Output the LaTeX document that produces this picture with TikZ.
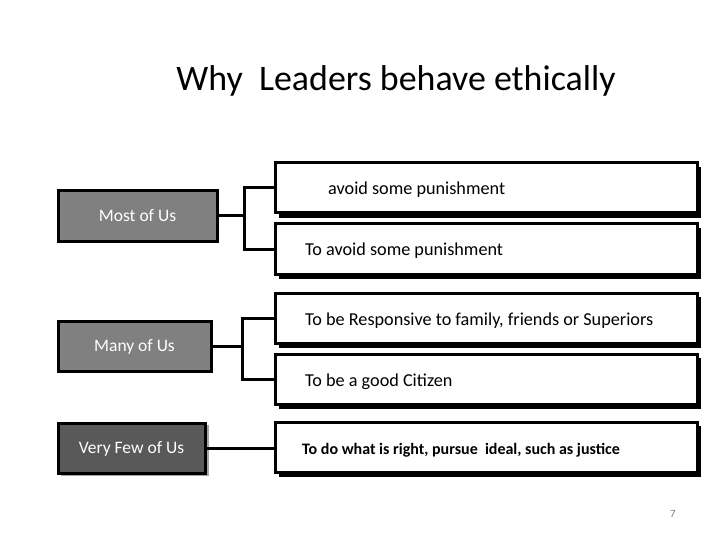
\documentclass[tikz,border=0pt]{standalone}
\usepackage{fontspec}
\setmainfont{Carlito}
\begin{document}
\begin{tikzpicture}[x=1pt,y=-1pt,
  leftbox/.style={draw=black,line width=3pt,fill=gray50,minimum width=#1,minimum height=50pt,inner sep=0pt,text=white,font=\fontsize{17.5}{20}\selectfont,text depth=0.5pt},
  rightbox/.style={draw=black,line width=3pt,fill=white,minimum width=422pt,minimum height=50pt,inner sep=0pt},
  rtext/.style={anchor=west,inner sep=0pt,font=\fontsize{18.2}{21}\selectfont},
  conn/.style={line width=3pt}]
\definecolor{gray50}{HTML}{808080}
\definecolor{gray35}{HTML}{595959}
\useasboundingbox (0,0) rectangle (720,540);
% title
\node[font=\fontsize{35.9}{40}\selectfont] (title) at (396,81) {Why\ \ Leaders behave ethically};
% right boxes with shadows
\foreach \y/\n in {188/r1,249/r2,318/r3,379/r4,447/r5}{
  \fill[black] (279,\y-21) rectangle (701,\y+30);
  \node[rightbox] (\n) at (486,\y) {};
}
\node[rtext] (t1) at (328,189.5) {avoid some punishment};
\node[rtext] (t2) at (305,250.5) {To avoid some punishment};
\node[rtext] (t3) at (305,320.5) {To be Responsive to family, friends or Superiors};
\node[rtext] (t4) at (305,381.5) {To be a good Citizen};
\node[rtext,font=\fontsize{16}{19}\selectfont\bfseries] (t5) at (302,450) {To do what is right, pursue\ \ ideal, such as justice};
% left boxes
\node[leftbox=159pt] (most) at (137.5,216) {Most of Us};
\node[leftbox=153pt] (many) at (134.5,346) {Many of Us};
\fill[gray!70] (61,425) rectangle (209,476);
\node[leftbox=147pt,fill=gray35] (few) at (131.5,448) {Very Few of Us};
% connectors
\coordinate (b1) at (244,216);
\coordinate (b2) at (242,346);
\draw[conn] (most.east) -- (b1);
\draw[conn] (r1.west) -| (b1) |- (r2.west);
\draw[conn] (many.east) -- (b2);
\draw[conn] (r3.west) -| (b2) |- (r4.west);
\draw[conn] (few.east) -- (few.east -| r5.west);
% page number
\node[text=gray,font=\fontsize{11}{13}\selectfont] (pg) at (673,514) {7};
\end{tikzpicture}
\end{document}
